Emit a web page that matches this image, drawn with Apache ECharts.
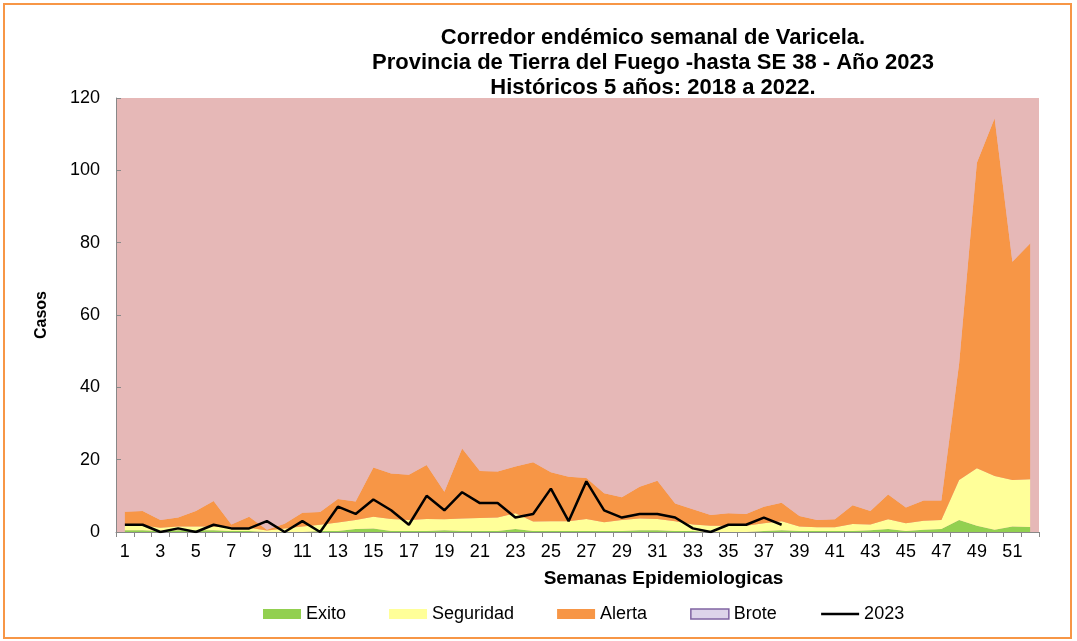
<!DOCTYPE html>
<html>
<head>
<meta charset="utf-8">
<script src="https://cdn.jsdelivr.net/npm/echarts@6/dist/echarts.min.js"></script>
<style>
  html, body { margin: 0; padding: 0; background: #fff; }
  #chart { width: 1077px; height: 641px; }
</style>
</head>
<body>
<div id="chart"></div>
<script>
// semanas epidemiologicas 1..52
const weeks = Array.from({ length: 52 }, (_, i) => String(i + 1));

// umbrales del corredor (valores acumulados)
const exitoTop = [0.5, 0.5, 0.3, 0.5, 0.5, 0.5, 0.3, 0.3, 0, 0, 0, 0.3, 0.3, 0.8, 1.0, 0.3, 0.3, 0.3, 0.5, 0.3,
  0.3, 0.3, 0.8, 0.3, 0.3, 0.3, 0.3, 0.3, 0.3, 0.5, 0.5, 0.3, 0.3, 0, 0, 0, 0.3, 0.5, 0.3, 0.3,
  0.3, 0.3, 0.5, 0.8, 0.3, 0.6, 0.8, 3.3, 1.7, 0.6, 1.5, 1.4];
const seguridadTop = [1.8, 1.8, 1.2, 1.5, 1.5, 1.5, 1.2, 1.2, 0.4, 1.0, 1.5, 2.0, 2.6, 3.3, 4.2, 3.6, 3.3, 3.6, 3.5, 3.7,
  3.9, 4.0, 5.2, 2.9, 3.0, 3.0, 3.6, 2.7, 3.3, 3.7, 3.6, 3.0, 2.1, 1.7, 1.7, 1.7, 2.4, 3.0, 1.5, 1.3,
  1.3, 2.2, 2.1, 3.5, 2.4, 3.1, 3.3, 14.4, 17.6, 15.5, 14.4, 14.6];
const alertaTop = [5.6, 5.8, 3.3, 4.0, 5.8, 8.6, 2.1, 4.2, 0.6, 2.3, 5.3, 5.5, 9.1, 8.4, 17.8, 16.2, 15.8, 18.5, 11.1, 23.1,
  16.9, 16.7, 18.1, 19.3, 16.5, 15.3, 14.9, 10.7, 9.6, 12.5, 14.2, 7.9, 6.3, 4.7, 5.2, 5.0, 7.0, 8.1, 4.4, 3.3,
  3.5, 7.4, 5.8, 10.4, 6.8, 8.7, 8.7, 46.6, 102.1, 114.4, 74.7, 79.8];
const broteTop = 120;

// casos 2023 hasta SE 38
const casos2023 = [2, 2, 0, 1, 0, 2, 1, 1, 3, 0, 3, 0, 7, 5, 9, 6, 2, 10, 6, 11,
  8, 8, 4, 5, 12, 3, 14, 6, 4, 5, 5, 4, 1, 0, 2, 2, 4, 2];

const yTicks = [0, 20, 40, 60, 80, 100, 120];

// bandas apiladas
const exito = exitoTop.slice();
const seguridad = seguridadTop.map((v, i) => +(v - exitoTop[i]).toFixed(2));
const alerta = alertaTop.map((v, i) => +(v - seguridadTop[i]).toFixed(2));
const brote = alertaTop.map(v => +(broteTop - v).toFixed(2));

const PINK = "#e6b8b7";

function band(name, data, color) {
  return {
    name: name,
    type: "line",
    stack: "corredor",
    data: data,
    symbol: "none",
    lineStyle: { width: 0 },
    itemStyle: { color: color },
    areaStyle: { color: color, opacity: 1 },
    silent: true,
  };
}

const chart = echarts.init(document.getElementById("chart"));
const FONT = "Liberation Sans, Arial, sans-serif";

chart.setOption({
  animation: false,
  textStyle: { fontFamily: FONT },
  title: {
    text: "Corredor endémico semanal de Varicela.\nProvincia de Tierra del Fuego -hasta SE 38 - Año 2023\nHistóricos 5 años: 2018 a 2022.",
    left: 648,
    top: 20,
    textAlign: "center",
    textStyle: { fontSize: 22, fontWeight: "bold", color: "#000", lineHeight: 25, fontFamily: FONT },
  },
  graphic: [{
    type: "rect",
    shape: { x: 4, y: 4, width: 1067, height: 634 },
    style: { fill: "none", stroke: "#f79646", lineWidth: 2 },
    silent: true,
  }],
  grid: { left: 116, right: 38, top: 98, bottom: 109, show: true, backgroundColor: PINK, borderWidth: 0 },
  legend: {
    left: 258,
    top: 600,
    itemWidth: 38,
    itemHeight: 10,
    itemGap: 43,
    textStyle: { fontSize: 18, color: "#000", fontFamily: FONT },
    data: [
      { name: "Exito", icon: "rect", itemStyle: { color: "#92d050" } },
      { name: "Seguridad", icon: "rect", itemStyle: { color: "#ffff99" } },
      { name: "Alerta", icon: "rect", itemStyle: { color: "#f79646" } },
      { name: "Brote", icon: "rect", itemStyle: { color: "#ddd4ea", borderColor: "#8064a2", borderWidth: 1.5 } },
      { name: "2023", itemStyle: { opacity: 0 }, lineStyle: { color: "#000", width: 2.5 } },
    ],
  },
  xAxis: {
    type: "category",
    data: weeks,
    boundaryGap: true,
    name: "Semanas Epidemiologicas",
    nameLocation: "middle",
    nameGap: 37,
    nameTextStyle: { fontSize: 19, fontWeight: "bold", color: "#000", padding: [0, 0, 0, 172] },
    axisLine: { lineStyle: { color: "#888", width: 1 } },
    axisTick: { show: true, length: 5, interval: 0, lineStyle: { color: "#888" } },
    axisLabel: { interval: 1, fontSize: 18, color: "#000", margin: 11 },
  },
  yAxis: {
    type: "value",
    min: yTicks[0],
    max: yTicks[yTicks.length - 1],
    interval: yTicks[1] - yTicks[0],
    name: "Casos",
    nameLocation: "middle",
    nameGap: 66,
    nameRotate: 90,
    nameTextStyle: { fontSize: 16, fontWeight: "bold", color: "#000" },
    axisLine: { show: true, lineStyle: { color: "#888", width: 1 } },
    axisTick: { show: true, inside: true, length: 5, lineStyle: { color: "#888" } },
    axisLabel: { fontSize: 18, color: "#000", margin: 16 },
    splitLine: { show: false },
  },
  series: [
    band("Exito", exito, "#92d050"),
    band("Seguridad", seguridad, "#ffff99"),
    band("Alerta", alerta, "#f79646"),
    band("Brote", brote, PINK),
    {
      name: "2023",
      type: "line",
      data: casos2023,
      symbol: "none",
      z: 5,
      lineStyle: { color: "#000", width: 2.5 },
      itemStyle: { color: "#000" },
    },
  ],
});
</script>
</body>
</html>
